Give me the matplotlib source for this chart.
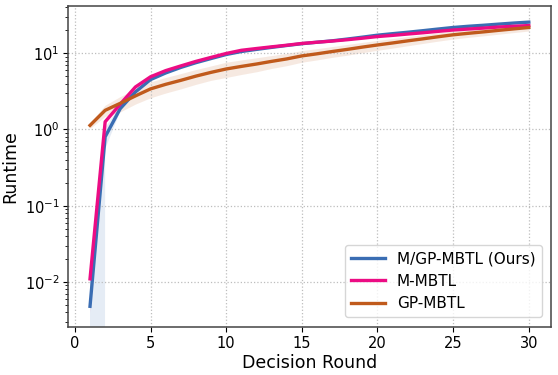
import numpy as np
import matplotlib
matplotlib.use("Agg")
import matplotlib.pyplot as plt

rounds = list(range(1, 31))

# mean runtime per decision round
ours_mean = [0.0048, 0.80, 1.88, 3.1, 4.5, 5.5, 6.5, 7.5, 8.5, 9.6,
             10.5, 11.2, 11.9, 12.6, 13.3, 13.9, 14.5, 15.3, 16.2, 17.2,
             18.0, 18.8, 19.7, 20.7, 21.7, 22.5, 23.2, 24.0, 24.8, 25.5]
ours_std = [0.006, 0.25, 0.15, 0.15, 0.15, 0.15, 0.15, 0.15, 0.15, 0.2,
            0.2, 0.2, 0.2, 0.2, 0.2, 0.2, 0.2, 0.2, 0.2, 0.2,
            0.2, 0.2, 0.2, 0.2, 0.2, 0.2, 0.2, 0.2, 0.2, 0.2]

mmbtl_mean = [0.011, 1.26, 2.15, 3.6, 4.9, 5.9, 6.8, 7.8, 8.8, 9.9,
              10.9, 11.5, 12.1, 12.7, 13.4, 13.9, 14.4, 15.0, 15.7, 16.5,
              17.1, 17.8, 18.5, 19.3, 20.1, 20.7, 21.3, 22.0, 22.5, 23.0]
mmbtl_std = [0.007, 0.05, 0.1, 0.15, 0.2, 0.2, 0.2, 0.2, 0.2, 0.2,
             0.2, 0.2, 0.2, 0.2, 0.2, 0.2, 0.2, 0.2, 0.2, 0.2,
             0.2, 0.2, 0.2, 0.2, 0.2, 0.2, 0.2, 0.2, 0.2, 0.2]

gp_mean = [1.13, 1.78, 2.2, 2.75, 3.4, 3.9, 4.4, 5.0, 5.6, 6.2,
           6.7, 7.2, 7.8, 8.4, 9.2, 9.8, 10.5, 11.2, 12.0, 12.8,
           13.6, 14.5, 15.4, 16.4, 17.4, 18.2, 19.0, 19.9, 20.8, 21.7]
gp_std = [0.1, 0.3, 0.5, 0.6, 0.8, 0.9, 1.0, 1.1, 1.2, 1.4,
          1.45, 1.5, 1.5, 1.55, 1.6, 1.65, 1.7, 1.8, 1.85, 1.9,
          1.95, 2.0, 2.0, 2.05, 2.1, 2.1, 2.15, 2.2, 2.2, 2.2]

series = [
    ("M/GP-MBTL (Ours)", ours_mean, ours_std, "#3a6db3"),
    ("M-MBTL", mmbtl_mean, mmbtl_std, "#ec0c84"),
    ("GP-MBTL", gp_mean, gp_std, "#c05a1c"),
]

fig = plt.figure(figsize=(5.58, 3.75), dpi=100)
ax = fig.add_axes([0.122, 0.129, 0.865, 0.855])

x = np.array(rounds)
for label, mean, std, color in series:
    m = np.array(mean)
    s = np.array(std)
    # nonpositive lower bounds fall off the bottom of the log axis
    lo = np.where(m - s > 0, m - s, 1e-300)
    ax.fill_between(x, lo, m + s, color=color, alpha=0.13, linewidth=0)
    ax.plot(x, m, color=color, linewidth=2.4, label=label)

ax.set_yscale("log")
ax.set_ylim(0.0026, 41.5)
ax.set_xlim(-0.45, 31.45)
ax.set_xticks([0, 5, 10, 15, 20, 25, 30])
ax.set_xlabel("Decision Round", fontsize=12.5, labelpad=2)
ax.set_ylabel("Runtime", fontsize=12.5)
ax.tick_params(labelsize=10.5)
ax.tick_params(axis="y", pad=2.5)
ax.grid(True, which="major", linestyle=":", color="#bdbdbd", linewidth=0.9)
for sp in ax.spines.values():
    sp.set_color("#444444")
    sp.set_linewidth(1.1)
ax.legend(loc="lower right", fontsize=11, handlelength=2.2, borderaxespad=0.6)

fig.savefig("out.png", dpi=100)
